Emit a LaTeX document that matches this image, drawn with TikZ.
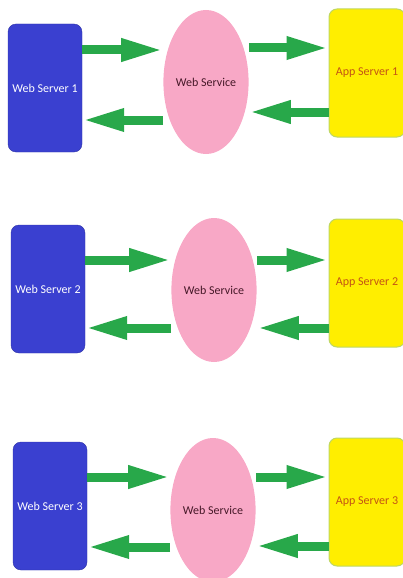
\documentclass[tikz,border=0pt]{standalone}
\usepackage{fontspec}
\setmainfont{Carlito}
\usetikzlibrary{arrows.meta}
\usetikzlibrary{shapes.geometric}
\definecolor{webblue}{RGB}{58,64,208}
\definecolor{svcpink}{RGB}{248,168,198}
\definecolor{appyellow}{RGB}{255,238,0}
\definecolor{appedge}{RGB}{190,215,100}
\definecolor{flowgreen}{RGB}{40,168,74}
\definecolor{apptext}{RGB}{196,84,20}
\definecolor{svctext}{RGB}{70,24,40}

\begin{document}
\begin{tikzpicture}[x=1pt, y=-1pt,
  every node/.append style={font=\fontsize{12}{14}\selectfont, inner sep=0pt},
  web/.style={rectangle, rounded corners=8pt, fill=webblue, draw=webblue!80!black, text=white, minimum width=74pt, minimum height=128pt},
  svc/.style={ellipse, fill=svcpink, text=svctext, minimum width=69pt, minimum height=144pt},
  app/.style={rectangle, rounded corners=8pt, fill=appyellow, draw=appedge, line width=1pt, text=apptext, minimum width=76pt, minimum height=128pt},
  flow/.style={flowgreen, line width=9pt, -{Triangle[length=42pt, width=21pt]}}]
  \clip (0,0) rectangle (403,578);
  \useasboundingbox (0,0) rectangle (403,578);
  % first row
  \node[web] (ws1) at (45, 88) {Web Server 1};
  \node[svc] (svc1) at (206, 82) {Web Service};
  \node[app] (app1) at (367, 73) {App Server 1};
  \draw[flow] (ws1.east |- 0,50) -- (svc1.west |- 0,50);
  \draw[flow] (svc1.east |- 0,48) -- (app1.west |- 0,48);
  \draw[flow] (app1.west |- 0,112) -- (svc1.east |- 0,112);
  \draw[flow] (svc1.west |- 0,120) -- (ws1.east |- 0,120);
  % second row
  \node[web] (ws2) at (48, 289) {Web Server 2};
  \node[svc] (svc2) at (214, 290) {Web Service};
  \node[app] (app2) at (367, 283) {App Server 2};
  \draw[flow] (ws2.east |- 0,260) -- (svc2.west |- 0,260);
  \draw[flow] (svc2.east |- 0,260) -- (app2.west |- 0,260);
  \draw[flow] (app2.west |- 0,328) -- (svc2.east |- 0,328);
  \draw[flow] (svc2.west |- 0,328) -- (ws2.east |- 0,328);
  % third row
  \node[web] (ws3) at (50, 506) {Web Server 3};
  \node[svc] (svc3) at (213, 510) {Web Service};
  \node[app] (app3) at (367, 502) {App Server 3};
  \draw[flow] (ws3.east |- 0,477) -- (svc3.west |- 0,477);
  \draw[flow] (svc3.east |- 0,477) -- (app3.west |- 0,477);
  \draw[flow] (app3.west |- 0,546) -- (svc3.east |- 0,546);
  \draw[flow] (svc3.west |- 0,547) -- (ws3.east |- 0,547);
\end{tikzpicture}
\end{document}
